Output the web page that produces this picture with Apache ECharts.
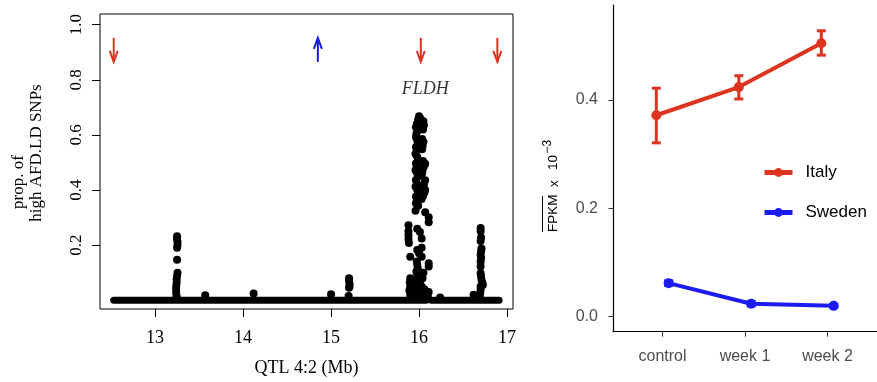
<!DOCTYPE html>
<html><head><meta charset="utf-8">
<script src="https://cdn.jsdelivr.net/npm/echarts@6/dist/echarts.min.js"></script>
<style>html,body{margin:0;padding:0;background:#fff}#c{width:877px;height:382px}</style>
</head><body><div id="c"></div>
<script>
// ================= Left panel data =================
const qtlTicks = [13, 14, 15, 16, 17];
const propTicks = [0.2, 0.4, 0.6, 0.8, 1.0];
// dense row of SNPs at zero (start, end in Mb)
const baselineSegments = [[12.53, 16.08], [16.14, 16.91]];
const peak13 = [[13.25,0.232],[13.25,0.222],[13.255,0.212],[13.255,0.2],[13.25,0.19],[13.25,0.147],
  [13.255,0.1],[13.25,0.088],[13.245,0.075],[13.245,0.062],[13.24,0.05],[13.24,0.038],[13.24,0.026],[13.245,0.014]];
const smallBumps = [[13.57,0.018],[14.12,0.024],[15.0,0.022],[16.24,0.01],[16.62,0.02],[15.2,0.015]];
const peak15 = [[15.205,0.08],[15.205,0.07],[15.21,0.06],[15.21,0.05],[15.205,0.045]];
const peakFLDH = [
  [16.0,0.668],[16.015,0.66],[15.99,0.655],[16.0,0.645],
  [15.975,0.64],[15.965,0.628],[15.985,0.616],[15.97,0.604],[15.965,0.592],[15.98,0.58],[15.99,0.568],
  [15.965,0.556],[15.975,0.544],[15.96,0.532],[15.98,0.52],[15.99,0.508],[15.965,0.496],[15.975,0.484],
  [15.96,0.472],[15.98,0.46],[15.99,0.448],[15.965,0.436],[15.975,0.424],[15.96,0.412],[15.98,0.40],
  [15.99,0.388],[15.965,0.376],[15.975,0.364],[15.965,0.352],
  [16.05,0.65],[16.055,0.635],[16.045,0.62],[16.035,0.585],[16.05,0.575],[16.04,0.56],[16.035,0.548],
  [16.045,0.505],[16.07,0.495],[16.055,0.485],[16.04,0.472],[16.035,0.46],[16.07,0.435],[16.055,0.42],
  [16.045,0.41],[16.07,0.4],[16.06,0.39],[16.045,0.378],
  [16.03,0.367],[15.99,0.343],[15.96,0.325],[16.07,0.319],[16.11,0.301],[16.11,0.283],[15.88,0.272],
  [15.88,0.25],[15.88,0.237],[15.88,0.222],[15.885,0.208],[15.98,0.259],[16.01,0.248],[16.03,0.224],
  [16.03,0.19],[15.98,0.182],[16.0,0.17],[15.90,0.158],[16.03,0.158],[16.11,0.134],[16.11,0.122],
  [15.975,0.14],[15.98,0.128],[15.985,0.116],[15.97,0.104],[15.98,0.092],[15.99,0.08],[15.975,0.068],
  [15.98,0.056],[15.97,0.044],[15.985,0.032],[15.98,0.02],
  [16.0,0.09],[16.01,0.06],[15.96,0.07],[15.95,0.04],[16.02,0.03],[16.03,0.05],
  [15.9,0.08],[15.895,0.065],[15.9,0.05],[15.89,0.035],[15.9,0.02],[16.11,0.03],[16.1,0.015],
  [15.92,0.04],[15.94,0.06],[15.93,0.02],[16.05,0.02],[16.06,0.04],[16.08,0.03],[16.04,0.08],[16.05,0.1]
];
const peak167 = [[16.7,0.262],[16.7,0.25],[16.705,0.228],[16.7,0.215],[16.71,0.188],[16.705,0.178],
  [16.7,0.165],[16.705,0.153],[16.7,0.14],[16.7,0.122],[16.7,0.098],[16.705,0.086],[16.71,0.074],
  [16.72,0.062],[16.725,0.055],[16.7,0.05],[16.7,0.038],[16.695,0.026],[16.69,0.014]];
const arrowsDown = [12.53, 16.02, 16.89];
const arrowsUp = [14.85];
const arrowSpan = [0.865, 0.952];
const geneLabel = [16.07, 0.767, 'FLDH'];

// ================= Right panel data =================
const categories = ['control', 'week 1', 'week 2'];
const fpkmTicks = [0.0, 0.2, 0.4];
const italyMean = [0.372, 0.424, 0.505];
const italyLow  = [0.321, 0.402, 0.483];
const italyHigh = [0.422, 0.445, 0.528];
const swedenMean = [0.062, 0.024, 0.020];
const swedenLow  = [0.058, 0.020, 0.018];
const swedenHigh = [0.066, 0.028, 0.022];
const dodge = 0.075;

// ================= Build =================
const RED = '#DD3420', BLUE = '#1C1CF2';
const SERIF = '"Liberation Serif", "DejaVu Serif", serif';
const SANS = '"Liberation Sans", Arial, sans-serif';
const chart = echarts.init(document.getElementById('c'));

function arrowRender(color, up) {
  return function (params, api) {
    const x = api.value(0);
    const a = api.coord([x, arrowSpan[1]]), b = api.coord([x, arrowSpan[0]]);
    const tip = up ? a : b, dir = up ? 1 : -1;
    const st = { stroke: color, lineWidth: 2, fill: null };
    return { type: 'group', children: [
      { type: 'line', shape: { x1: a[0], y1: a[1], x2: b[0], y2: b[1] }, style: st },
      { type: 'polyline', shape: { points: [[tip[0] - 4, tip[1] + dir * 11], tip, [tip[0] + 4, tip[1] + dir * 11]] }, style: st }
    ]};
  };
}
function errRender(color) {
  return function (params, api) {
    const x = api.value(0), lo = api.value(1), hi = api.value(2);
    const pL = api.coord([x, lo]), pH = api.coord([x, hi]);
    const w = 4.5, st = { stroke: color, lineWidth: 3 };
    return { type: 'group', children: [
      { type: 'line', shape: { x1: pL[0], y1: pL[1], x2: pH[0], y2: pH[1] }, style: st },
      { type: 'line', shape: { x1: pL[0] - w, y1: pL[1], x2: pL[0] + w, y2: pL[1] }, style: st },
      { type: 'line', shape: { x1: pH[0] - w, y1: pH[1], x2: pH[0] + w, y2: pH[1] }, style: st }
    ]};
  };
}

const dotStyle = { color: '#000', opacity: 1 };
const series = [];
baselineSegments.forEach(s => series.push({
  type: 'line', xAxisIndex: 0, yAxisIndex: 0, data: [[s[0], 0], [s[1], 0]], symbol: 'none',
  lineStyle: { color: '#000', width: 7, cap: 'round' }, silent: true, animation: false
}));
[peak13, smallBumps, peak15, peakFLDH, peak167].forEach(d => series.push({
  type: 'scatter', xAxisIndex: 0, yAxisIndex: 0, data: d, symbolSize: 8, itemStyle: dotStyle, animation: false
}));
series.push({ type: 'custom', xAxisIndex: 0, yAxisIndex: 0, data: arrowsDown.map(x => [x]), renderItem: arrowRender(RED, false), animation: false });
series.push({ type: 'custom', xAxisIndex: 0, yAxisIndex: 0, data: arrowsUp.map(x => [x]), renderItem: arrowRender('#1A1AE6', true), animation: false });
series.push({
  type: 'scatter', xAxisIndex: 0, yAxisIndex: 0, data: [[geneLabel[0], geneLabel[1]]], symbolSize: 0,
  label: { show: true, position: 'inside', formatter: geneLabel[2], fontFamily: SERIF, fontStyle: 'italic', fontSize: 18, color: '#000' },
  animation: false
});

// right panel
series.push({ type: 'custom', xAxisIndex: 1, yAxisIndex: 1, data: categories.map((c, i) => [i - dodge, italyLow[i], italyHigh[i]]),
  renderItem: errRender(RED), encode: { x: 0, y: [1, 2] }, animation: false, z: 2 });
series.push({ type: 'custom', xAxisIndex: 1, yAxisIndex: 1, data: categories.map((c, i) => [i + dodge, swedenLow[i], swedenHigh[i]]),
  renderItem: errRender(BLUE), encode: { x: 0, y: [1, 2] }, animation: false, z: 2 });
series.push({ type: 'line', name: 'Italy', xAxisIndex: 1, yAxisIndex: 1, data: categories.map((c, i) => [i - dodge, italyMean[i]]),
  symbol: 'circle', symbolSize: 10, lineStyle: { color: RED, width: 4 }, itemStyle: { color: RED }, animation: false, z: 3 });
series.push({ type: 'line', name: 'Sweden', xAxisIndex: 1, yAxisIndex: 1, data: categories.map((c, i) => [i + dodge, swedenMean[i]]),
  symbol: 'circle', symbolSize: 10, lineStyle: { color: BLUE, width: 4 }, itemStyle: { color: BLUE }, animation: false, z: 3 });

// right y title (pieces placed along the rotated reading direction)
const tf = '13.5px ' + SANS, sf = '12px ' + SANS;

chart.setOption({
  animation: false,
  grid: [
    { left: 100, top: 14, width: 413, height: 299, show: true, borderColor: '#000', borderWidth: 1, backgroundColor: 'transparent' },
    { left: 613, top: 5, width: 280, height: 326.7 }
  ],
  xAxis: [
    { type: 'value', gridIndex: 0, min: 12.374, max: 17.068,
      axisLine: { show: false, onZero: false }, splitLine: { show: false },
      axisTick: { show: true, length: 8, lineStyle: { color: '#000' }, customValues: qtlTicks },
      axisLabel: { customValues: qtlTicks, fontFamily: SERIF, fontSize: 18, color: '#000', margin: 20 },
      name: 'QTL 4:2 (Mb)', nameLocation: 'middle', nameGap: 50,
      nameTextStyle: { fontFamily: SERIF, fontSize: 18, color: '#000' } },
    { type: 'value', gridIndex: 1, min: -0.6, max: 2.6,
      axisLine: { show: true, onZero: false, lineStyle: { color: '#000', width: 1.2 } }, splitLine: { show: false },
      axisTick: { show: true, length: 5, lineStyle: { color: '#333' }, customValues: [0, 1, 2] },
      axisLabel: { customValues: [0, 1, 2], formatter: v => categories[Math.round(v)], fontFamily: SANS, fontSize: 16, color: '#4D4D4D', margin: 17 } }
  ],
  yAxis: [
    { type: 'value', gridIndex: 0, min: -0.032, max: 1.039,
      axisLine: { show: false, onZero: false }, splitLine: { show: false },
      axisTick: { show: true, length: 8, lineStyle: { color: '#000' }, customValues: propTicks },
      axisLabel: { customValues: propTicks, rotate: 90, formatter: v => v.toFixed(1), fontFamily: SERIF, fontSize: 17, color: '#000', margin: 15 } },
    { type: 'value', gridIndex: 1, min: -0.0277, max: 0.5756,
      axisLine: { show: true, onZero: false, lineStyle: { color: '#000', width: 1.2 } }, splitLine: { show: false },
      axisTick: { show: true, length: 4.5, lineStyle: { color: '#333' }, customValues: fpkmTicks },
      axisLabel: { customValues: fpkmTicks, formatter: v => v.toFixed(1), fontFamily: SANS, fontSize: 16, color: '#4D4D4D', margin: 15 } }
  ],
  legend: {
    data: ['Italy', 'Sweden'],
    orient: 'vertical', left: 762, top: 164, padding: 0, itemWidth: 28, itemHeight: 11, itemGap: 23,
    lineStyle: { width: 5 },
    textStyle: { fontFamily: SANS, fontSize: 17, color: '#000', padding: [0, 0, 0, 8] }
  },
  graphic: [
    { type: 'text', x: 19, y: 182, rotation: Math.PI / 2,
      style: { text: 'prop. of', align: 'center', verticalAlign: 'middle', font: '17px ' + SERIF, fill: '#000' } },
    { type: 'text', x: 37, y: 153, rotation: Math.PI / 2,
      style: { text: 'high AFD.LD SNPs', align: 'center', verticalAlign: 'middle', font: '17px ' + SERIF, fill: '#000' } },
    { type: 'group', x: 553.5, y: 178, rotation: Math.PI / 2, children: [
      { type: 'text', x: -54, y: 0, style: { text: 'FPKM', align: 'left', verticalAlign: 'middle', font: tf, fill: '#000' } },
      { type: 'text', x: -9, y: 0.5, style: { text: 'x', align: 'left', verticalAlign: 'middle', font: tf, fill: '#000' } },
      { type: 'text', x: 8, y: 0, style: { text: '10', align: 'left', verticalAlign: 'middle', font: tf, fill: '#000' } },
      { type: 'text', x: 24.5, y: -6, style: { text: '\u22123', align: 'left', verticalAlign: 'middle', font: sf, fill: '#000' } },
      { type: 'line', shape: { x1: -54, y1: -11, x2: -54 + 36, y2: -11 }, style: { stroke: '#000', lineWidth: 1 } }
    ]}
  ],
  series: series
});
</script></body></html>
